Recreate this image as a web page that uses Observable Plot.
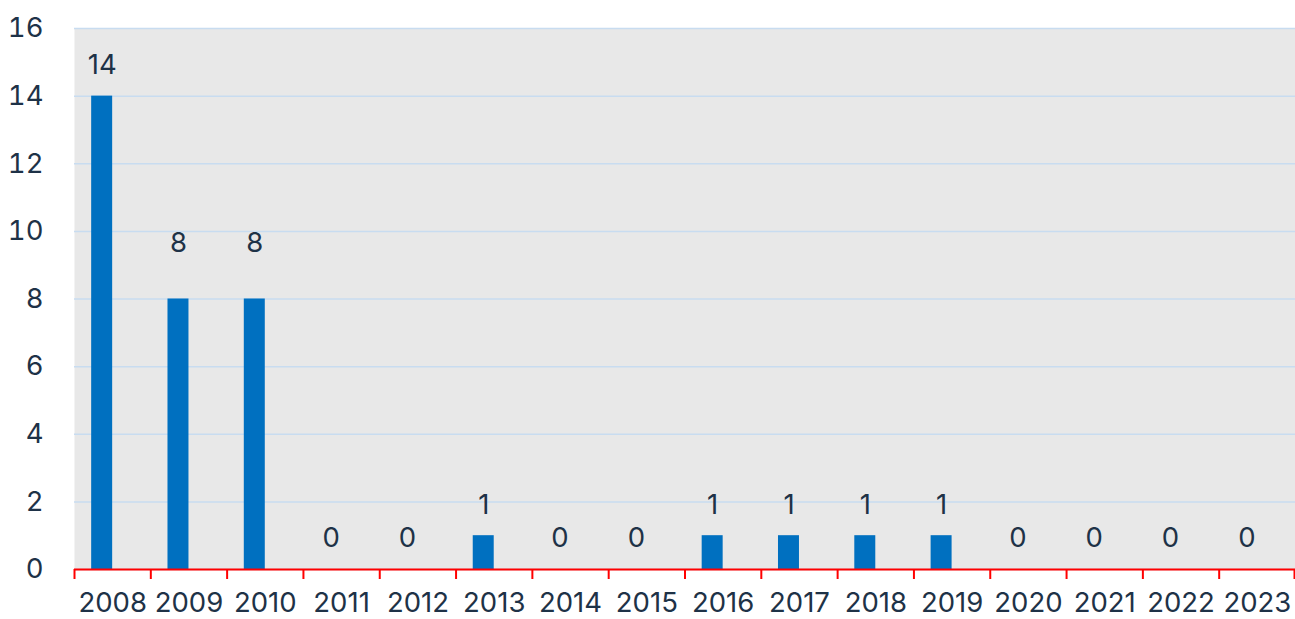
<!DOCTYPE html>
<html>
<head>
<meta charset="utf-8">
<script src="https://cdn.jsdelivr.net/npm/d3@7"></script>
<script src="https://cdn.jsdelivr.net/npm/@observablehq/plot@0.6"></script>
<style>
  html, body { margin: 0; padding: 0; background: #ffffff; }
  #chart { width: 1295px; height: 619px; }
</style>
</head>
<body>
<div id="chart"></div>
<script>
const years = ["2008","2009","2010","2011","2012","2013","2014","2015","2016","2017","2018","2019","2020","2021","2022","2023"];
const counts = [14, 8, 8, 0, 0, 1, 0, 0, 1, 1, 1, 1, 0, 0, 0, 0];
const yTicks = [0, 2, 4, 6, 8, 10, 12, 14, 16];

const data = years.map((y, i) => ({year: y, count: counts[i]}));

const W = 1295, H = 619, mL = 74, mR = 0, mT = 28, mB = 50;
const bw = (W - mL - mR) / years.length;
const insL = bw * 0.225, insR = bw * 0.5;
const barCenterDx = (insL + (bw - insR)) / 2 - bw / 2;
const textColor = "#1e3247";
const font = "Inter, Roboto, sans-serif";
const fs = 27.5;

const chart = Plot.plot({
  width: W,
  height: H,
  marginLeft: mL,
  marginRight: mR,
  marginTop: mT,
  marginBottom: mB,
  style: {fontFamily: font, fontSize: fs + "px", color: textColor, background: "#ffffff"},
  x: {type: "band", domain: years, padding: 0, round: false, label: null},
  y: {domain: [0, 16], ticks: yTicks, label: null},
  marks: [
    Plot.frame({fill: "#e8e8e8", stroke: null}),
    Plot.gridY(yTicks, {stroke: "#c8dcf0", strokeOpacity: 1, strokeWidth: 1.5}),
    Plot.barY(data, {x: "year", y: "count", fill: "#0070c0", insetLeft: insL, insetRight: insR}),
    Plot.text(data.filter(d => d.count !== 8), {x: "year", y: "count", text: d => String(d.count), dx: barCenterDx, dy: -31, lineAnchor: "middle", fill: textColor, fontSize: fs}),
    Plot.text(data.filter(d => d.count === 8), {x: "year", y: "count", text: d => String(d.count), dx: barCenterDx, dy: -56, lineAnchor: "middle", fill: textColor, fontSize: fs}),
    Plot.ruleY([0], {stroke: "#ff0000", strokeWidth: 2}),
    Plot.ruleX(years, {x: d => d, y1: 0, y2: 0, insetBottom: -10, dx: -bw / 2, stroke: "#ff0000", strokeWidth: 2}),
    Plot.ruleX([years[years.length - 1]], {x: d => d, y1: 0, y2: 0, insetBottom: -10, dx: bw / 2 - 1, stroke: "#ff0000", strokeWidth: 2}),
    Plot.axisX({tickSize: 0, tickPadding: 23, fontSize: fs, fill: textColor, label: null}),
    Plot.axisY(yTicks, {tickSize: 0, tickPadding: 31, fontSize: fs, fill: textColor, label: null})
  ]
});
document.getElementById("chart").appendChild(chart);
</script>
</body>
</html>
